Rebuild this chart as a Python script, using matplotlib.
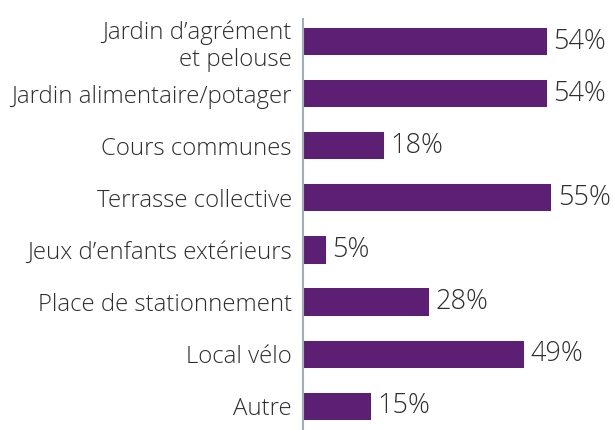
import matplotlib.pyplot as plt

categories = [
    "Jardin d\u2019agrément\net pelouse",
    "Jardin alimentaire/potager",
    "Cours communes",
    "Terrasse collective",
    "Jeux d\u2019enfants extérieurs",
    "Place de stationnement",
    "Local vélo",
    "Autre",
]
values = [54, 54, 18, 55, 5, 28, 49, 15]

plt.rcParams['font.family'] = ['Open Sans', 'DejaVu Sans']

fig = plt.figure(figsize=(6.15, 4.3), dpi=100)
ax = fig.add_axes([303 / 615, 0, 1 - 303 / 615 - 0.005, 1 - 19 / 430])

pos = list(range(len(categories)))
ax.barh(pos, values, height=0.52, color="#5c1f74")
for p, v in zip(pos, values):
    ax.text(v + 1.4, p, f"{v}%", va="center", ha="left", fontsize=19.5,
            color="#2e2e2e", fontweight=300)

ax.set_xlim(0, 68.4)
ax.set_ylim(7.46, -0.44)
ax.set_yticks(pos)
ax.set_yticklabels(categories, fontsize=17.3, color="#2e2e2e", ha="right",
                   linespacing=1.15, fontweight=300)
ax.tick_params(axis="y", length=0, pad=8)
ax.set_xticks([])
for s in ["top", "right", "bottom"]:
    ax.spines[s].set_visible(False)
ax.spines["left"].set_color("#a3adb5")
ax.spines["left"].set_linewidth(1.5)

fig.savefig("out.png", dpi=100)
